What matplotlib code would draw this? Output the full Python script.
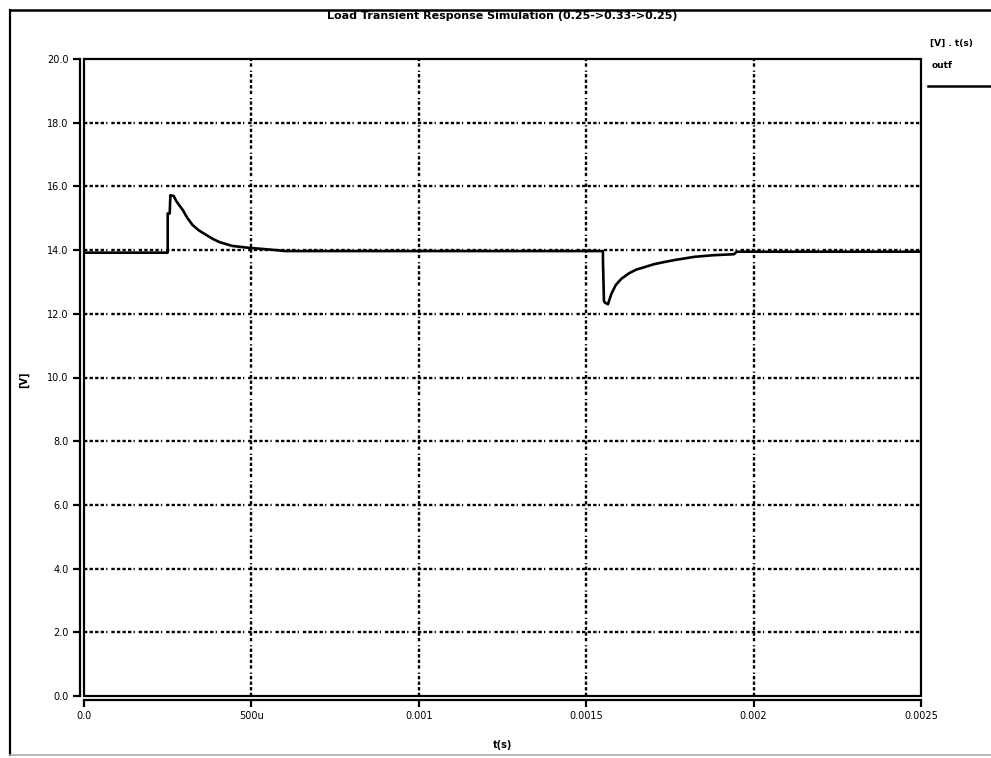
import matplotlib
matplotlib.use('Agg')
import matplotlib.pyplot as plt
from matplotlib.patches import Rectangle
from matplotlib.lines import Line2D

plt.rcParams['font.family'] = ['DejaVu Sans']
plt.rcParams['lines.scale_dashes'] = False

# output voltage (outf)
t_s = [0, 250e-6, 250e-6, 256e-6, 258e-6, 268e-6, 275e-6, 285e-6, 295e-6,
       308e-6, 324e-6, 343e-6, 366e-6, 385e-6, 405e-6, 443e-6, 494e-6,
       540e-6, 583e-6, 600e-6,
       1550e-6, 1550e-6, 1553e-6, 1556e-6, 1565e-6, 1575e-6, 1588e-6,
       1605e-6, 1629e-6, 1650e-6, 1676e-6, 1700e-6, 1726e-6, 1765e-6,
       1824e-6, 1880e-6, 1941e-6, 1950e-6, 2500e-6]
v_out = [13.92, 13.92, 15.15, 15.15, 15.72, 15.70, 15.55, 15.40, 15.26,
         15.02, 14.79, 14.62, 14.47, 14.35, 14.25, 14.13, 14.07,
         14.03, 13.99, 13.97,
         13.97, 13.70, 12.40, 12.35, 12.30, 12.62, 12.90,
         13.10, 13.28, 13.39, 13.47, 13.55, 13.61, 13.69,
         13.79, 13.84, 13.87, 13.95, 13.95]

x_ticks = [0, 0.0005, 0.001, 0.0015, 0.002, 0.0025]
x_labels = ['0.0', '500u', '0.001', '0.0015', '0.002', '0.0025']
y_ticks = [0, 2, 4, 6, 8, 10, 12, 14, 16, 18, 20]
y_labels = ['%.1f' % v for v in y_ticks]

W, H = 991, 758
fig = plt.figure(figsize=(W / 100, H / 100), dpi=100)
ax = fig.add_axes([84 / W, 1 - 696 / H, (921 - 84) / W, (696 - 59) / H])

grid_ls = (0, (2.4, 1.6, 2.4, 1.6, 2.4, 1.6, 2.4, 1.6, 0.9, 2.8))
for xv in x_ticks[1:-1]:
    ax.axvline(xv, color='black', lw=1.7, ls=grid_ls, zorder=1)
for yv in y_ticks[1:-1]:
    ax.axhline(yv, color='black', lw=1.7, ls=grid_ls, zorder=1)

ax.plot(t_s, v_out, color='black', lw=1.9, zorder=3)

ax.set_xlim(0, 0.0025)
ax.set_ylim(0, 20)
ax.set_xticks(x_ticks)
ax.set_xticklabels(x_labels)
ax.set_yticks(y_ticks)
ax.set_yticklabels(y_labels)
ax.tick_params(direction='out', length=5, width=1.6, labelsize=7, pad=3)
for lab in ax.get_xticklabels() + ax.get_yticklabels():
    lab.set_fontweight('bold')

ax.spines['left'].set_position(('outward', 3))
ax.spines['bottom'].set_position(('outward', 3))
ax.spines['top'].set_visible(False)
ax.spines['right'].set_visible(False)
for s in ('left', 'bottom'):
    ax.spines[s].set_linewidth(1.6)
ax.add_patch(Rectangle((0, 0), 1, 1, transform=ax.transAxes, fill=False,
                       lw=1.6, ec='black', clip_on=False, zorder=4))

fig.text(502 / W, 1 - 16 / H, 'Load Transient Response Simulation (0.25->0.33->0.25)',
         ha='center', va='center', fontsize=8, fontweight='bold')
fig.text(503 / W, 1 - 745 / H, 't(s)', ha='center', va='center',
         fontsize=7, fontweight='bold')
fig.text(24 / W, 1 - 380 / H, '[V]', ha='center', va='center', rotation=90,
         fontsize=7, fontweight='bold')

# legend at the right
fig.text(930 / W, 1 - 43 / H, '[V] . t(s)', ha='left', va='center',
         fontsize=6.5, fontweight='bold')
fig.text(932 / W, 1 - 66 / H, 'outf', ha='left', va='center',
         fontsize=6.5, fontweight='bold')
fig.add_artist(Line2D([928 / W, 1.0], [1 - 86 / H, 1 - 86 / H], color='black', lw=1.8))

# outer frame
fig.add_artist(Line2D([10 / W, 1.0], [1 - 10 / H, 1 - 10 / H], color='black', lw=1.8))
fig.add_artist(Line2D([10 / W, 10 / W], [1 - 10 / H, 1 - 755 / H], color='black', lw=1.6))
fig.add_artist(Line2D([10 / W, 1.0], [1 - 755 / H, 1 - 755 / H], color='#aaaaaa', lw=1.2))

fig.savefig('out.png', dpi=100)
